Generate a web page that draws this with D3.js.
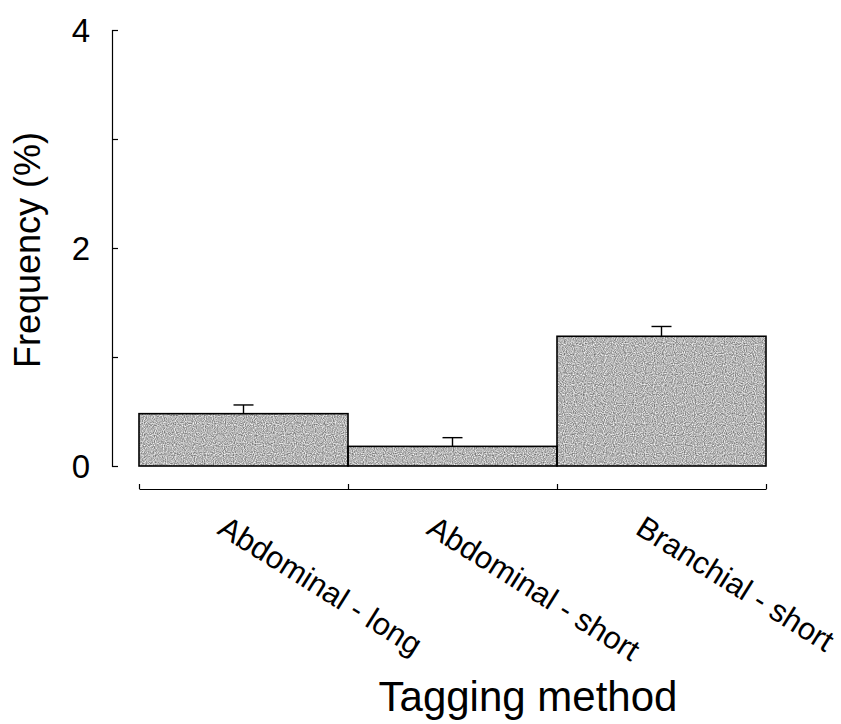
<!DOCTYPE html>
<html>
<head>
<meta charset="utf-8">
<script src="https://cdn.jsdelivr.net/npm/d3@7"></script>
<style>
  body { margin: 0; background: #fff; }
  text { font-family: "Liberation Sans", Arial, sans-serif; fill: #000; }
</style>
</head>
<body>
<svg id="chart"></svg>
<script>
const width = 841;
const height = 724;
const margin = {left: 112, right: 75, top: 30, bottom: 258};

// data
const methods = ['Abdominal - long', 'Abdominal - short', 'Branchial - short'];
const frequency = [0.48, 0.18, 1.19];
const stdError = [0.08, 0.08, 0.09];
const yTicks = [0, 1, 2, 3, 4];
const yLabels = [0, 2, 4];

const svg = d3.select('#chart')
  .attr('width', width)
  .attr('height', height);

// grainy grey fill like the scanned original
const grain = svg.append('defs').append('filter')
  .attr('id', 'grain')
  .attr('color-interpolation-filters', 'sRGB')
  .attr('x', 0).attr('y', 0).attr('width', 1).attr('height', 1);
grain.append('feTurbulence')
  .attr('type', 'fractalNoise')
  .attr('baseFrequency', 0.9)
  .attr('numOctaves', 1)
  .attr('seed', 3);
grain.append('feColorMatrix')
  .attr('type', 'matrix')
  .attr('values', '0.9 0 0 0 0.26  0.9 0 0 0 0.26  0.9 0 0 0 0.26  0 0 0 0 1');
grain.append('feComposite')
  .attr('in2', 'SourceGraphic')
  .attr('operator', 'in');

const plotH = height - margin.top - margin.bottom;

const yScale = d3.scaleLinear()
  .domain([0, 4])
  .range([margin.top + plotH, margin.top]);

const xScale = d3.scaleBand()
  .domain(methods)
  .range([139, 766])
  .padding(0);

// y axis, ticks pointing inward
const yAxis = d3.axisLeft(yScale)
  .tickValues(yTicks)
  .tickSizeInner(-6)
  .tickSizeOuter(-6)
  .tickPadding(22)
  .tickFormat(d => yLabels.includes(d) ? d : '');

const gy = svg.append('g')
  .attr('transform', `translate(${margin.left}, 0)`)
  .call(yAxis);
gy.selectAll('path, line').attr('stroke', '#000').attr('stroke-width', 1.2);
gy.selectAll('text').style('font-size', '33px').attr('dy', '0.36em');

// bars: grainy fill, then outline
const bars = svg.append('g');
bars.selectAll('rect.fill')
  .data(methods)
  .enter()
  .append('rect')
  .attr('class', 'fill')
  .attr('x', d => xScale(d))
  .attr('y', (d, i) => yScale(frequency[i]))
  .attr('width', xScale.bandwidth())
  .attr('height', (d, i) => yScale(0) - yScale(frequency[i]))
  .attr('fill', '#b4b4b4')
  .attr('filter', 'url(#grain)');

bars.selectAll('rect.edge')
  .data(methods)
  .enter()
  .append('rect')
  .attr('class', 'edge')
  .attr('x', d => xScale(d))
  .attr('y', (d, i) => yScale(frequency[i]))
  .attr('width', xScale.bandwidth())
  .attr('height', (d, i) => yScale(0) - yScale(frequency[i]))
  .attr('fill', 'none')
  .attr('stroke', '#000')
  .attr('stroke-width', 1.6);

// error bars (upper only)
const err = svg.append('g');
methods.forEach((m, i) => {
  const cx = xScale(m) + xScale.bandwidth() / 2;
  err.append('line')
    .attr('x1', cx).attr('x2', cx)
    .attr('y1', yScale(frequency[i]))
    .attr('y2', yScale(frequency[i] + stdError[i]))
    .attr('stroke', '#000').attr('stroke-width', 1.4);
  err.append('line')
    .attr('x1', cx - 10).attr('x2', cx + 10)
    .attr('y1', yScale(frequency[i] + stdError[i]))
    .attr('y2', yScale(frequency[i] + stdError[i]))
    .attr('stroke', '#000').attr('stroke-width', 1.4);
});

// x axis bracket below the bars
const xEdges = d3.scaleLinear()
  .domain([0, methods.length])
  .range(xScale.range());

const gx = svg.append('g')
  .attr('transform', 'translate(0, 489)')
  .call(d3.axisBottom(xEdges)
    .tickValues(d3.range(methods.length + 1))
    .tickSizeInner(-5)
    .tickSizeOuter(0)
    .tickFormat(''));
gx.selectAll('path, line').attr('stroke', '#000').attr('stroke-width', 1.2);

// rotated category labels
svg.append('g')
  .selectAll('text')
  .data(methods)
  .enter()
  .append('text')
  .attr('transform', d => `translate(${xScale(d) + 77}, 533) rotate(32)`)
  .style('font-size', '31px')
  .text(d => d);

// axis titles
svg.append('text')
  .attr('transform', 'translate(40, 250) rotate(-90)')
  .attr('text-anchor', 'middle')
  .style('font-size', '36px')
  .text('Frequency (%)');

svg.append('text')
  .attr('x', 528)
  .attr('y', 711)
  .attr('text-anchor', 'middle')
  .style('font-size', '42px')
  .text('Tagging method');
</script>
</body>
</html>
